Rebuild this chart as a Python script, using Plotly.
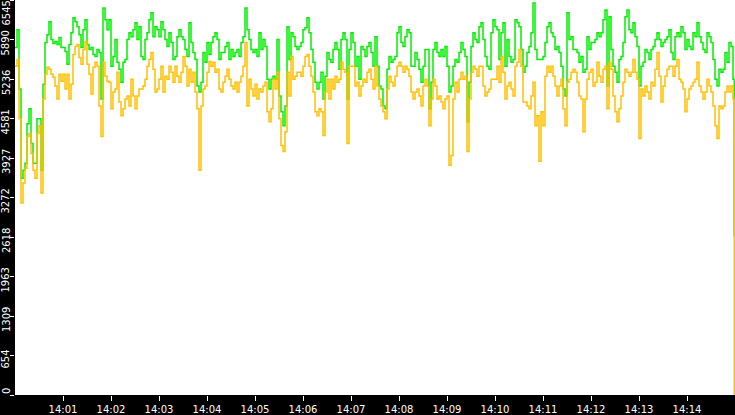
import pandas as pd
import plotly.graph_objects as go

# Throughput samples, one every 2.5 s from 14:00:00, plus the closing sample
green_vals = [
    # 14:00:00 - 14:01:40
    5758, 6053, 5069, 3593, 3724, 3839, 4495, 4741, 4167, 3839,
    3839, 4577, 4577, 3724, 5151, 5840, 5971, 6184, 5889, 5823,
    5856, 5807, 5922, 5758, 5758, 5692, 5479, 5807, 6004, 6250,
    6184, 6102, 5971, 5758, 6053, 6217, 5807, 5725, 5758, 5643,
    # 14:01:40 - 14:03:20
    5610, 5725, 5676, 4905, 6414, 6217, 6053, 6217, 5446, 5610,
    5889, 5512, 5397, 5184, 5512, 5561, 5889, 6004, 5938, 6053,
    6168, 5889, 6102, 5610, 5561, 5889, 6004, 6217, 6332, 5938,
    6102, 6053, 5938, 6184, 6053, 5889, 5774, 6004, 5840, 5561,
    # 14:03:20 - 14:05:00
    5610, 5938, 6053, 5938, 5889, 5725, 5610, 6168, 5840, 5676,
    5561, 5118, 5020, 5184, 5676, 5512, 5840, 5643, 5840, 5938,
    6004, 5889, 5561, 5676, 5676, 5774, 5840, 5561, 5725, 5610,
    5676, 5725, 5610, 5840, 5938, 6414, 6053, 5889, 5725, 5676,
    # 14:05:00 - 14:06:40
    5725, 5610, 6004, 5725, 5889, 5774, 5233, 5069, 5233, 5282,
    5233, 5889, 4954, 4692, 4462, 4790, 6102, 5561, 6004, 5938,
    5774, 5725, 5774, 5840, 6053, 6086, 6250, 6004, 5725, 5512,
    5184, 5069, 5184, 5348, 4905, 5282, 5676, 5561, 5512, 5725,
    # 14:06:40 - 14:08:20
    5840, 5725, 5397, 5889, 6004, 5889, 4905, 5725, 6004, 5840,
    5446, 5610, 5233, 5774, 5725, 5610, 5774, 5840, 5676, 5446,
    5938, 5446, 5118, 5069, 4790, 4741, 5397, 5610, 5512, 5561,
    5610, 6004, 6102, 5840, 5774, 5938, 6053, 6004, 5446, 5446,
    # 14:08:20 - 14:10:00
    5676, 5561, 5397, 5184, 5446, 5725, 5725, 4741, 5184, 5725,
    5840, 5676, 5610, 5725, 5610, 5774, 5446, 5020, 5118, 5446,
    5561, 5512, 5676, 5840, 5725, 5610, 4528, 5184, 5774, 6004,
    5889, 5840, 6102, 6168, 5889, 5610, 5446, 5397, 6004, 6217,
    # 14:10:00 - 14:11:40
    6102, 6053, 5561, 6004, 6168, 5446, 5889, 5610, 5512, 5561,
    6217, 6168, 6102, 5725, 5348, 5446, 5676, 5774, 6004, 6496,
    5725, 5561, 5561, 5561, 5610, 5840, 6102, 6168, 6004, 5938,
    5725, 5774, 5676, 5446, 5069, 4954, 6332, 5889, 5938, 5725,
    # 14:11:40 - 14:13:20
    5725, 5676, 5512, 5610, 5348, 5397, 5938, 5725, 5840, 5840,
    5889, 6004, 5938, 6004, 6217, 6381, 5118, 6266, 5725, 5446,
    5348, 5184, 5561, 5610, 5840, 6266, 6381, 6053, 6004, 6168,
    5938, 5774, 5118, 5446, 5512, 5725, 5676, 5561, 5725, 5774,
    # 14:13:20 - 14:15:00
    5889, 6004, 5889, 5774, 5840, 5889, 5938, 6053, 5676, 5561,
    5938, 6004, 5938, 6102, 6004, 5725, 5889, 5774, 5725, 6004,
    5938, 6168, 5938, 5840, 5725, 5676, 6004, 5938, 5840, 5561,
    5233, 5118, 5397, 5348, 5397, 5676, 5512, 5840, 5774, 5233,
    2625,
]

orange_vals = [
    # 14:00:00 - 14:01:40
    5446, 5561, 4577, 3183, 3511, 3757, 4282, 4331, 4003, 3724,
    3593, 4331, 4462, 3347, 4905, 5315, 5430, 5397, 5315, 5266,
    5118, 4905, 5315, 5200, 5315, 5069, 5315, 4905, 5151, 5643,
    5774, 5807, 5594, 5479, 5725, 5856, 5479, 5315, 4987, 5430,
    # 14:01:40 - 14:03:20
    5512, 5446, 4790, 4282, 5512, 5282, 5200, 5184, 4741, 5020,
    5069, 5348, 4856, 4626, 4741, 4905, 4954, 4790, 5233, 4954,
    4741, 4954, 5069, 5069, 5118, 5233, 5446, 5561, 5676, 5397,
    5020, 5069, 5233, 5446, 5020, 5282, 5233, 5446, 5348, 5184,
    # 14:03:20 - 14:05:00
    5446, 5282, 5184, 5348, 5610, 5446, 5118, 5397, 5184, 5348,
    5020, 4741, 3724, 4790, 5069, 5118, 5348, 5528, 5446, 5512,
    5348, 5397, 5069, 5020, 5184, 5282, 5397, 5233, 5118, 5069,
    5184, 5020, 5184, 5282, 5446, 5840, 4790, 5233, 5069, 4954,
    # 14:05:00 - 14:06:40
    5151, 4905, 5069, 5020, 5118, 5184, 4692, 4528, 4741, 5233,
    5069, 5348, 4577, 4134, 4036, 4364, 5348, 4954, 5610, 5233,
    5282, 5348, 5348, 5282, 5446, 5610, 5643, 5446, 5282, 5020,
    4692, 4626, 4741, 4692, 4298, 5020, 5233, 4905, 5233, 5069,
    # 14:06:40 - 14:08:20
    5282, 5184, 5233, 5512, 5397, 5348, 4167, 5446, 5446, 5446,
    5118, 5184, 4954, 5118, 5233, 5184, 5348, 5397, 5233, 5069,
    5446, 5118, 4905, 4790, 4692, 4577, 5069, 5282, 5184, 5118,
    5282, 5446, 5512, 5446, 5348, 5446, 5397, 5282, 5020, 4905,
    # 14:08:20 - 14:10:00
    5020, 5069, 4954, 4790, 5118, 5233, 5118, 4462, 4905, 5233,
    5118, 4905, 4954, 4856, 4741, 4905, 4954, 3806, 3970, 4905,
    5184, 5020, 5233, 5348, 5233, 5282, 4036, 4905, 5348, 5446,
    5397, 5282, 5446, 5446, 5118, 4954, 5020, 5069, 5233, 5233,
    # 14:10:00 - 14:11:40
    5233, 5446, 5184, 5610, 5348, 4905, 5118, 5184, 5069, 4954,
    5446, 5512, 5725, 5446, 4856, 4856, 4790, 4741, 4954, 5184,
    4462, 4626, 3872, 4692, 4462, 5282, 5446, 5348, 5446, 5282,
    5118, 4954, 5118, 5233, 4741, 4462, 5184, 5233, 5348, 5397,
    # 14:11:40 - 14:13:20
    5348, 5184, 4954, 4905, 4364, 4905, 5233, 5348, 5397, 5118,
    5184, 5512, 5282, 5184, 5397, 5446, 4741, 5512, 5397, 4954,
    4692, 4528, 4741, 4954, 5184, 5397, 5348, 5282, 5348, 5561,
    5348, 5233, 4249, 5069, 4954, 5118, 5020, 4905, 5184, 5118,
    # 14:13:20 - 14:15:00
    5397, 5676, 5282, 4856, 5118, 5282, 5397, 5446, 5446, 5282,
    5446, 5561, 5233, 5184, 5069, 4692, 4905, 5069, 5118, 5184,
    5233, 5512, 5118, 5020, 4905, 5020, 5233, 5118, 5020, 4790,
    4462, 4249, 4790, 4741, 4790, 5020, 5118, 5020, 5118, 4905,
    0,
]

y_ticks = [0, 654, 1309, 1963, 2618, 3272, 3927, 4581, 5236, 5890, 6545]
x_tick_labels = ["14:01", "14:02", "14:03", "14:04", "14:05", "14:06", "14:07",
                 "14:08", "14:09", "14:10", "14:11", "14:12", "14:13", "14:14"]

day = "2024-01-01"
times = list(pd.date_range(f"{day} 14:00:00", periods=len(green_vals) - 1, freq="2500ms"))
times.append(pd.Timestamp(f"{day} 14:14:59"))

fig = go.Figure()
fig.add_trace(go.Scatter(x=times, y=green_vals, mode="lines", line_shape="hv",
                         line=dict(color="#00f000", width=1.5), showlegend=False,
                         hoverinfo="skip"))
fig.add_trace(go.Scatter(x=times, y=orange_vals, mode="lines", line_shape="hv",
                         line=dict(color="#ffc000", width=1.5), showlegend=False,
                         hoverinfo="skip"))

# rotated y labels, drawn as annotations so the end ones stay inside the page
annotations = []
for i, v in enumerate(y_ticks):
    if i == 0:
        anchor, shift = "bottom", 0
    elif i == len(y_ticks) - 1:
        anchor, shift = "top", 0
    else:
        anchor, shift = "middle", -4
    annotations.append(dict(
        x=0, xref="paper", y=v, yref="y", text=str(v), showarrow=False,
        textangle=-90, xanchor="center", yanchor=anchor, xshift=-9, yshift=shift,
        font=dict(family="DejaVu Sans", size=10, color="white"),
        borderpad=0,
    ))

fig.update_layout(
    width=735, height=415,
    margin=dict(l=15, r=0, t=0, b=16),
    paper_bgcolor="black",
    plot_bgcolor="white",
    font=dict(family="DejaVu Sans", size=10, color="white"),
    annotations=annotations,
    xaxis=dict(
        range=[f"{day} 14:00:00", f"{day} 14:15:00"],
        tickvals=[f"{day} {t}:00" for t in x_tick_labels],
        ticktext=x_tick_labels,
        ticks="outside", ticklen=5, tickcolor="white", tickwidth=1,
        showgrid=False, zeroline=False, showline=False,
        tickfont=dict(family="DejaVu Sans", size=10, color="white"),
    ),
    yaxis=dict(
        range=[0, 6545],
        tickvals=y_ticks,
        showticklabels=False,
        ticks="outside", ticklen=4, tickcolor="white", tickwidth=1,
        showgrid=False, zeroline=False, showline=False,
    ),
)

# no page margin so the 735x415 figure fills the window exactly
post = """
document.body.style.margin = '0';
document.body.style.background = 'black';
"""

fig.write_html("out.html", config={"displayModeBar": False}, post_script=post)
